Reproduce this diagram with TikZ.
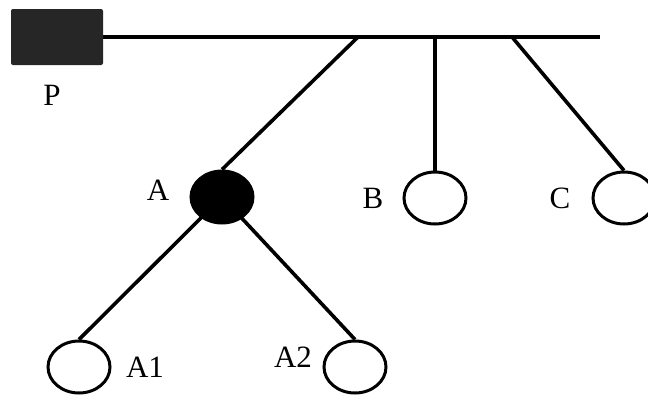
\documentclass[tikz,border=0pt]{standalone}
\usepackage{fontspec}
\setmainfont{Liberation Serif}
\usetikzlibrary{backgrounds,shapes.geometric}
\definecolor{boxgray}{RGB}{38,38,38}
\begin{document}
\begin{tikzpicture}[x=1pt,y=-1pt,
  conn/.style={line width=3.6pt,black},
  circ/.style={ellipse,draw=black,line width=3pt,minimum width=62pt,minimum height=52pt,inner sep=0pt,fill=white},
  lbl/.style={font=\fontsize{31}{32}\selectfont,inner sep=0pt}]
\useasboundingbox (0,0) rectangle (648,394);
\node[rectangle,fill=boxgray,rounded corners=2pt,minimum width=92pt,minimum height=56pt,inner sep=0pt] (P) at (57,37) {};
\node[circ,fill=black] (A) at (222,197) {};
\node[circ] (B) at (435,198) {};
\node[circ] (C) at (624,198) {};
\node[circ] (A1) at (79,367) {};
\node[circ] (A2) at (355,367) {};
\coordinate (jA) at (358,37);
\coordinate (jB) at (435,37);
\coordinate (jC) at (512,37);
\coordinate (end) at (600,37);
\begin{scope}[on background layer]
\fill[white] (0,0) rectangle (648,394);
\draw[conn] (P.east) -- (end);
\draw[conn] (jA) -- (A.north);
\draw[conn] (jB) -- (B.north);
\draw[conn] (jC) -- (C.north);
\draw[conn] (A.center) -- (A1.north);
\draw[conn] (A.center) -- (A2.north);
\end{scope}
\node[lbl] (lP) at (52,95) {P};
\node[lbl] (lA) at (158,190) {A};
\node[lbl] (lB) at (373,198) {B};
\node[lbl] (lC) at (560,198) {C};
\node[lbl] (lA1) at (145,367) {A1};
\node[lbl] (lA2) at (293,357) {A2};
\end{tikzpicture}
\end{document}
